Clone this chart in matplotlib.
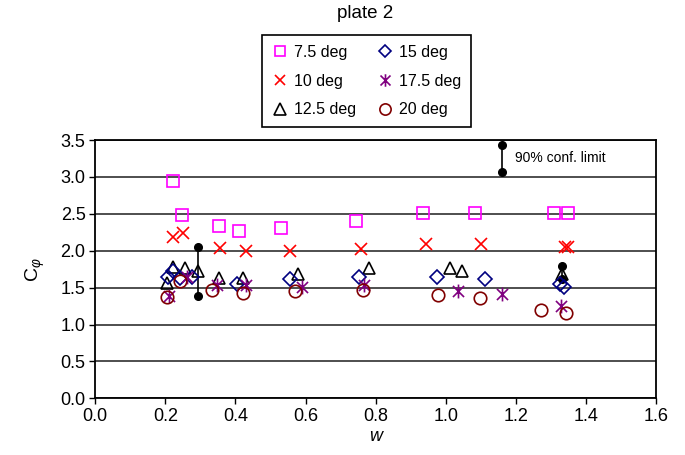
import matplotlib
matplotlib.use("Agg")
import matplotlib.pyplot as plt
from matplotlib.path import Path

plt.rcParams['font.family'] = ['Liberation Sans', 'DejaVu Sans']
plt.rcParams['mathtext.fontset'] = 'custom'
plt.rcParams['mathtext.rm'] = 'Liberation Sans'
plt.rcParams['mathtext.it'] = 'Liberation Sans:italic'

# ---- data ----
x_75 = [0.221, 0.247, 0.353, 0.409, 0.531, 0.743, 0.934, 1.083, 1.310, 1.349]
y_75 = [2.95, 2.48, 2.33, 2.27, 2.31, 2.40, 2.51, 2.51, 2.51, 2.51]

x_10 = [0.223, 0.251, 0.355, 0.429, 0.556, 0.758, 0.943, 1.101, 1.341, 1.348]
y_10 = [2.18, 2.24, 2.03, 2.00, 2.00, 2.02, 2.09, 2.09, 2.05, 2.05]

x_125 = [0.204, 0.221, 0.256, 0.294, 0.354, 0.422, 0.578, 0.781, 1.012, 1.046, 1.331]
y_125 = [1.56, 1.78, 1.76, 1.72, 1.63, 1.63, 1.68, 1.76, 1.76, 1.73, 1.69]

x_15 = [0.208, 0.223, 0.242, 0.275, 0.403, 0.556, 0.753, 0.974, 1.112, 1.326, 1.336]
y_15 = [1.64, 1.72, 1.63, 1.64, 1.545, 1.61, 1.64, 1.64, 1.62, 1.55, 1.51]

x_175 = [0.211, 0.261, 0.346, 0.430, 0.589, 0.768, 1.036, 1.160, 1.329]
y_175 = [1.38, 1.65, 1.535, 1.535, 1.51, 1.535, 1.455, 1.41, 1.255]

x_20 = [0.205, 0.242, 0.332, 0.422, 0.570, 0.763, 0.977, 1.098, 1.271, 1.343]
y_20 = [1.377, 1.59, 1.47, 1.43, 1.46, 1.47, 1.40, 1.355, 1.197, 1.16]

# 90% confidence limit bars (x, low, high)
err_x = [0.294, 1.331]
err_lo = [1.39, 1.62]
err_hi = [2.05, 1.79]

# example bar in the key
key_x = [1.160]
key_lo = [3.07]
key_hi = [3.43]

labels = ['7.5 deg', '10 deg', '12.5 deg', '15 deg', '17.5 deg', '20 deg']

# ---- figure ----
fig = plt.figure(figsize=(6.85, 4.55), dpi=100)
ax = fig.add_axes([0.1391, 0.1246, 0.8186, 0.5677])

star = Path([(0, -1), (0, 1), (-0.8, -0.8), (0.8, 0.8), (-0.8, 0.8), (0.8, -0.8)],
            [Path.MOVETO, Path.LINETO, Path.MOVETO, Path.LINETO, Path.MOVETO, Path.LINETO])

# error bars
for xs, lo, hi in ((err_x, err_lo, err_hi), (key_x, key_lo, key_hi)):
    for xv, l, h in zip(xs, lo, hi):
        ax.plot([xv, xv], [l, h], color='black', lw=1.2, marker='o', ms=5.5,
                markerfacecolor='black', zorder=2)

mk = dict(linestyle='none', markerfacecolor='none', markeredgewidth=1.2, zorder=3)
h1, = ax.plot(x_75, y_75, marker='s', ms=8.5, markeredgecolor='#FF00FF', label=labels[0], **mk)
h2, = ax.plot(x_10, y_10, marker='x', ms=8.5, markeredgecolor='#FF0000', label=labels[1], **mk)
h3, = ax.plot(x_125, y_125, marker='^', ms=9, markeredgecolor='black', label=labels[2], **mk)
h4, = ax.plot(x_15, y_15, marker='D', ms=7, markeredgecolor='#000080', label=labels[3], **mk)
h5, = ax.plot(x_175, y_175, marker=star, ms=10, markeredgecolor='#800080', label=labels[4], **mk)
h6, = ax.plot(x_20, y_20, marker='o', ms=9, markeredgecolor='#800000', label=labels[5], **mk)

ax.text(1.198, 3.25, '90% conf. limit', fontsize=10, va='center', ha='left')

ax.set_xlim(0, 1.6)
ax.set_ylim(0, 3.5)
ax.set_xticks([0.0, 0.2, 0.4, 0.6, 0.8, 1.0, 1.2, 1.4, 1.6])
ax.set_yticks([0.0, 0.5, 1.0, 1.5, 2.0, 2.5, 3.0, 3.5])
ax.xaxis.set_major_formatter(plt.FormatStrFormatter('%.1f'))
ax.yaxis.set_major_formatter(plt.FormatStrFormatter('%.1f'))
ax.tick_params(labelsize=13, direction='out', length=4, width=1, pad=3)
ax.yaxis.grid(True, color='#404040', lw=1.3)
ax.set_axisbelow(True)
for s in ax.spines.values():
    s.set_color('black')
    s.set_linewidth(1.3)

ax.set_xlabel('w', fontsize=13, style='italic', labelpad=2)
ax.set_ylabel(r'C$_{\varphi}$', fontsize=14, labelpad=10)

fig.text(0.533, 0.970, 'plate 2', fontsize=13.5, ha='center', va='center')

leg = fig.legend(handles=[h1, h2, h3, h4, h5, h6], ncol=2, loc='upper left',
                 bbox_to_anchor=(0.3825, 0.923), borderaxespad=0, fontsize=11.5,
                 frameon=True, fancybox=False, edgecolor='black', framealpha=1,
                 handlelength=1.0, handletextpad=0.4, columnspacing=1.3,
                 labelspacing=0.87, borderpad=0.6, markerscale=0.9)
leg.get_frame().set_linewidth(1.2)

fig.savefig('out.png', dpi=100)
